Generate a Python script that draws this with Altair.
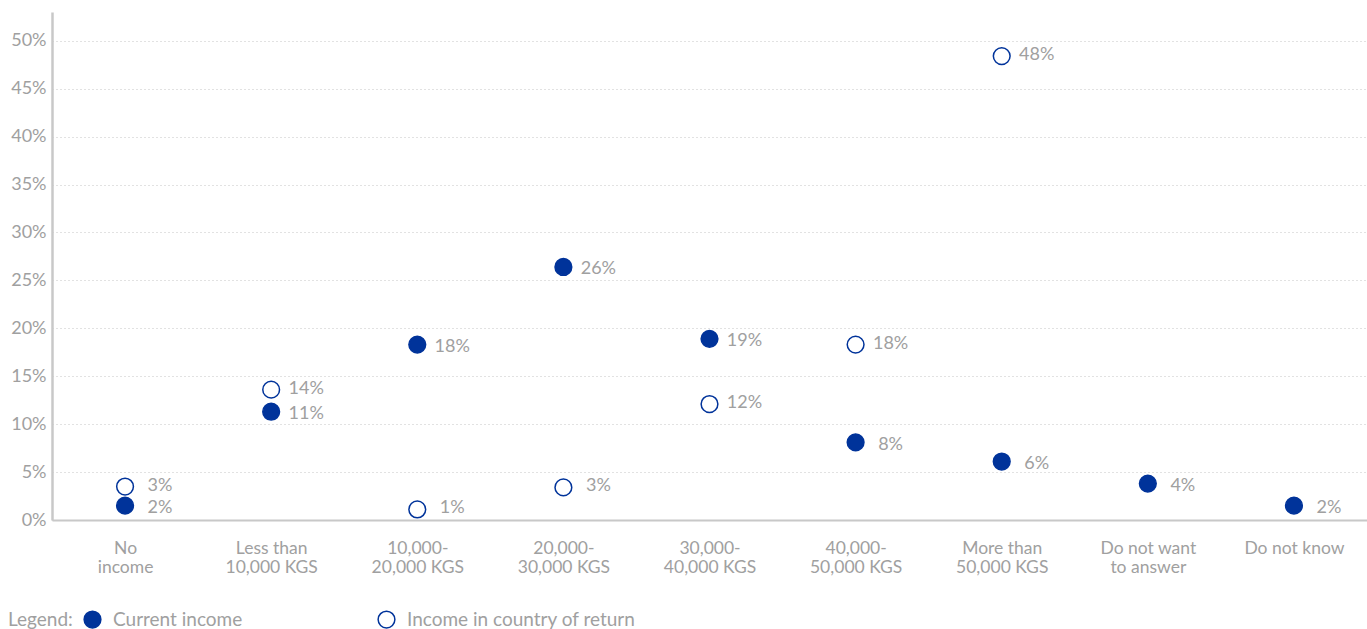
import math

import altair as alt
import pandas as pd

# Income brackets ("|" marks a line break in the axis label)
categories = [
    "No|income",
    "Less than|10,000 KGS",
    "10,000-|20,000 KGS",
    "20,000-|30,000 KGS",
    "30,000-|40,000 KGS",
    "40,000-|50,000 KGS",
    "More than|50,000 KGS",
    "Do not want|to answer",
    "Do not know",
]
series_names = ["Current income", "Income in country of return"]

# Share of respondents, in percent
current_income = [1.5, 11.3, 18.3, 26.4, 18.9, 8.1, 6.1, 3.8, 1.5]
return_income = [3.49, 13.6, 1.1, 3.4, 12.1, 18.3, 48.4, None, None]

y_ticks = [0, 5, 10, 15, 20, 25, 30, 35, 40, 45, 50]

NAVY = "#00339A"
GREY_TEXT = "#a0a0a0"
AXIS_LINE = "#c8c8c8"
FONT = "Lato"

rows = []
for cat, cur, ret in zip(categories, current_income, return_income):
    for name, val in zip(series_names, (cur, ret)):
        if val is None:
            continue
        rows.append({
            "category": cat,
            "series": name,
            "value": val,
            "label": f"{int(math.floor(val + 0.5))}%",
        })
df = pd.DataFrame(rows)

x_enc = alt.X(
    "category:N",
    sort=categories,
    scale=alt.Scale(type="point", padding=0.5),
    axis=alt.Axis(
        title=None,
        labelExpr="split(datum.label, '|')",
        labelAngle=0,
        ticks=False,
        domainColor=AXIS_LINE,
        domainWidth=2,
        labelPadding=19,
        labelFontSize=17.5,
        labelLineHeight=19.5,
        labelColor=GREY_TEXT,
        labelFont=FONT,
        labelOverlap=False,
        labelLimit=300,
        grid=False,
    ),
)
y_enc = alt.Y(
    "value:Q",
    scale=alt.Scale(domain=[0, 53], nice=False, zero=True),
    axis=alt.Axis(
        title=None,
        values=y_ticks,
        labelExpr="datum.value + '%'",
        ticks=False,
        domainColor=AXIS_LINE,
        domainWidth=2.5,
        grid=True,
        gridColor="#c4c4c4",
        gridDash=[1, 3],
        gridWidth=1,
        labelPadding=6,
        labelFontSize=18,
        labelColor=GREY_TEXT,
        labelFont=FONT,
    ),
)

points = alt.Chart(df).mark_point(
    filled=True, shape="circle", size=280, stroke=NAVY, strokeWidth=1.5, opacity=1
).encode(
    x=x_enc,
    y=y_enc,
    fill=alt.Fill(
        "series:N",
        scale=alt.Scale(domain=series_names, range=[NAVY, "#ffffff"]),
        legend=alt.Legend(
            title="Legend:",
            orient="none",
            legendX=-44,
            legendY=598,
            direction="horizontal",
            titleOrient="left",
            titleFontSize=19,
            titleFontWeight="normal",
            titleColor=GREY_TEXT,
            titleFont=FONT,
            titlePadding=10,
            titleBaseline="middle",
            labelFontSize=19,
            labelColor=GREY_TEXT,
            labelFont=FONT,
            labelOffset=11,
            labelLimit=400,
            symbolType="circle",
            symbolSize=280,
            symbolStrokeColor=NAVY,
            symbolStrokeWidth=1.5,
            columnPadding=132,
        ),
    ),
)


def value_labels(series, dy):
    """Percentage labels to the right of one series' markers."""
    return alt.Chart(df).transform_filter(
        alt.datum.series == series
    ).mark_text(
        dx=35, dy=dy, align="center", baseline="middle",
        fontSize=18, color=GREY_TEXT, font=FONT,
    ).encode(
        x=alt.X("category:N", sort=categories),
        y=alt.Y("value:Q"),
        text="label:N",
    )


chart = (
    alt.layer(
        points,
        value_labels("Current income", 2.5),
        value_labels("Income in country of return", -1),
    )
    .properties(
        width=1315,
        height=508,
        autosize=alt.AutoSizeParams(type="none"),
        padding={"left": 52, "top": 12, "right": 0, "bottom": 109},
        background="white",
    )
    .configure(font=FONT)
    .configure_view(stroke=None)
)

chart.save("out.html", embed_options={"renderer": "svg", "actions": False})
